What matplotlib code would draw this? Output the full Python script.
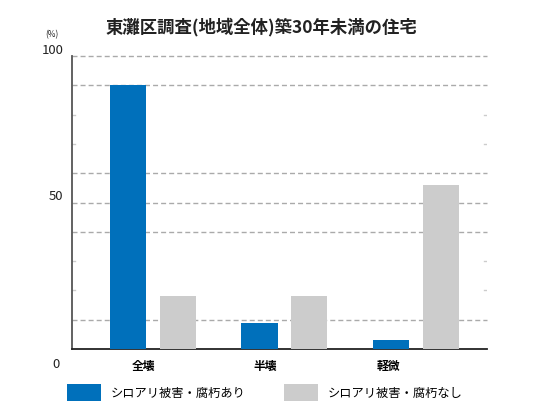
import matplotlib
matplotlib.use("Agg")
import matplotlib.pyplot as plt
from matplotlib.patches import Patch
import numpy as np

plt.rcParams['font.family'] = ['Noto Sans CJK JP', 'DejaVu Sans']

title = "東灘区調査(地域全体)築30年未満の住宅"
categories = ["全壊", "半壊", "軽微"]
series_names = ["シロアリ被害・腐朽あり", "シロアリ被害・腐朽なし"]
damaged = [90, 9, 3]
undamaged = [18, 18, 56]
colors = ["#0070BB", "#CCCCCC"]
ytick_values = [0, 50, 100]
dashed_grid = [10, 40, 50, 60, 90, 100]
stub_grid = [20, 30, 70, 80]

fig = plt.figure(figsize=(5.6, 4.2), dpi=100)
ax = fig.add_axes([72/560, 1-349/420, 415/560, 293/420])

x = np.arange(len(categories))
w = 0.274
off = 0.19
ax.bar(x - off, damaged, width=w, color=colors[0], zorder=3)
ax.bar(x + off, undamaged, width=w, color=colors[1], zorder=3)

ax.set_xlim(-0.616, 2.54)
ax.set_ylim(0, 100)

xl, xr = ax.get_xlim()
for g in dashed_grid:
    ax.plot([xl, xr], [g, g], color="#AAAAAA", lw=1.0,
            linestyle=(0, (3.6, 2.2)), zorder=1, clip_on=False)
stub = 0.02
for g in stub_grid:
    ax.plot([xl, xl + stub], [g, g], color="#CCCCCC", lw=1.0, zorder=1)
    ax.plot([xr - stub, xr], [g, g], color="#CCCCCC", lw=1.0, zorder=1)

for s in ["top", "right"]:
    ax.spines[s].set_visible(False)
ax.spines["left"].set_color("#555555")
ax.spines["left"].set_linewidth(1.3)
ax.spines["bottom"].set_color("#222222")
ax.spines["bottom"].set_linewidth(1.3)

ax.set_yticks([])
ax.tick_params(axis="x", length=0, pad=8, labelsize=8.5)
ax.set_xticks([-0.076, 0.85, 1.79])
ax.set_xticklabels(categories, fontweight="bold")

for v in ytick_values:
    dy = -11 if v == 0 else 4
    ax.annotate(str(v), xy=(0, v), xycoords=("axes fraction", "data"),
                xytext=(-9 if v == 0 else -6, dy), textcoords="offset points",
                ha="right", va="center", fontsize=9.5, color="#222222")
ax.annotate("(%)", xy=(0, 100), xycoords=("axes fraction", "data"),
            xytext=(-10, 15), textcoords="offset points",
            ha="right", va="center", fontsize=6, color="#222222")

fig.text(261/560, 1-27/420, title, ha="center", va="center",
         fontsize=12.5, fontweight="bold", color="#222222")

handles = [Patch(facecolor=c, edgecolor="none") for c in colors]
fig.legend(handles, series_names, loc="upper left",
           bbox_to_anchor=(67/560, 1-384/420), ncol=2, frameon=False,
           fontsize=8.8, handlelength=2.8, handleheight=1.8,
           handletextpad=0.8, columnspacing=3.1, borderpad=0, borderaxespad=0)

fig.savefig("out.png", dpi=100)
